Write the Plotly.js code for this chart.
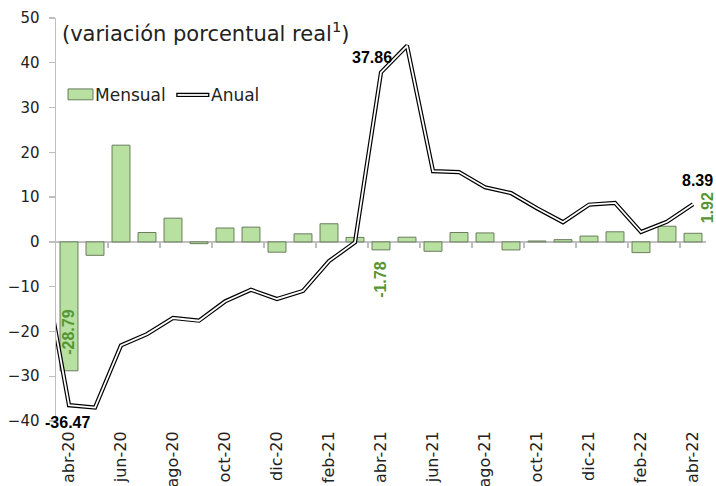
<!DOCTYPE html>
<html>
<head>
<meta charset="utf-8">
<script src="https://cdn.plot.ly/plotly-3.0.1.min.js"></script>
<style>html,body{margin:0;padding:0;background:#fff;}#chart{width:716px;height:486px;}</style>
</head>
<body>
<div id="chart"></div>
<script>
// Months (mar-20 only feeds the clipped start of the annual line)
const months = ["mar-20","abr-20","may-20","jun-20","jul-20","ago-20","sep-20","oct-20","nov-20","dic-20",
  "ene-21","feb-21","mar-21","abr-21","may-21","jun-21","jul-21","ago-21","sep-21","oct-21","nov-21","dic-21",
  "ene-22","feb-22","mar-22","abr-22"];
const mensual = [null,-28.79,-3.0,21.6,2.1,5.3,-0.4,3.1,3.3,-2.3,1.8,4.05,1.0,-1.78,1.05,-2.1,2.1,2.0,-1.8,0.2,0.5,1.3,2.25,-2.4,3.5,1.92];
const anual = [-4.5,-36.47,-37.0,-23.1,-20.6,-17.0,-17.6,-13.3,-10.7,-12.75,-10.95,-4.3,-0.1,37.86,43.8,15.8,15.6,12.2,10.9,7.5,4.4,8.3,8.7,2.2,4.5,8.39];
const tickMonths = ["abr-20","jun-20","ago-20","oct-20","dic-20","feb-21","abr-21","jun-21","ago-21","oct-21","dic-21","feb-22","abr-22"];
const yTicks = [-40,-30,-20,-10,0,10,20,30,40,50];
const yRange = [-40, 50];

const green = '#559632';
const labelFont = {family: 'Liberation Sans, Arial, sans-serif', size: 16, color: '#000'};
const idx = m => months.indexOf(m);

const traces = [
  {type:'bar', x: months, y: mensual, name:'Mensual', showlegend:false,
   marker:{color:'#b7e0a1', line:{color:'#6b7d5e', width:1}}, hoverinfo:'skip'},
  {type:'scatter', mode:'lines', x: months, y: anual, name:'Anual', showlegend:false,
   line:{color:'#000', width:4.2}, hoverinfo:'skip'},
  {type:'scatter', mode:'lines', x: months, y: anual, showlegend:false,
   line:{color:'#fff', width:1.8}, hoverinfo:'skip'}
];

// boundary ticks along the zero line
const boundaryTicks = [];
for (let i = 2; i < months.length - 1; i += 2) boundaryTicks.push(i + 0.5);

const ann = [];
ann.push({xref:'paper', yref:'paper', x:0.006, y:0.965, xanchor:'left', yanchor:'middle', showarrow:false,
  text:'(variación porcentual real<sup>1</sup>)', font:{family:'DejaVu Sans, sans-serif', size:21, color:'#222'}});
// legend
ann.push({xref:'paper', yref:'paper', x:0.057, y:0.809, xanchor:'left', yanchor:'middle', showarrow:false,
  text:'Mensual', font:{family:'DejaVu Sans, sans-serif', size:17, color:'#222'}});
ann.push({xref:'paper', yref:'paper', x:0.236, y:0.809, xanchor:'left', yanchor:'middle', showarrow:false,
  text:'Anual', font:{family:'DejaVu Sans, sans-serif', size:17, color:'#222'}});
// data labels
function lab(m, arr, txt, xs, ys, color, angle){
  ann.push({x:m, y:arr[idx(m)], xref:'x', yref:'y', text:txt, showarrow:false, xanchor:'center', yanchor:'middle',
    xshift:xs, yshift:ys, textangle:angle||0, font:Object.assign({}, labelFont, {color:color, weight:'bold'})});
}
lab('abr-20', mensual, '-28.79', 0, 38, green, -90);
lab('abr-21', mensual, '-1.78', 0, -30, green, -90);
lab('abr-22', mensual, '1.92', 14, 25, green, -90);
lab('abr-20', anual, '-36.47', -2, -17, '#000');
lab('abr-21', anual, '37.86', -9, 15, '#000');
lab('abr-22', anual, '8.39', 4, 24, '#000');

const zeroPos = (0 - yRange[0]) / (yRange[1] - yRange[0]);

const layout = {
  width:716, height:486,
  margin:{l:56, r:10, t:18, b:65},
  paper_bgcolor:'#fff', plot_bgcolor:'#fff',
  bargap:0.31,
  showlegend:false,
  xaxis:{type:'category', categoryorder:'array', categoryarray:months, range:[0.5, months.length - 0.5],
    tickmode:'array', tickvals:tickMonths, ticktext:tickMonths, tickangle:-90,
    ticks:'outside', ticklen:3, tickcolor:'rgba(0,0,0,0)',
    showline:false, showgrid:false, zeroline:false,
    tickfont:{family:'DejaVu Sans, sans-serif', size:16, color:'#222'}},
  xaxis2:{type:'linear', overlaying:'x', anchor:'free', position:zeroPos, side:'bottom',
    range:[0.5, months.length - 0.5], tickmode:'array', tickvals:boundaryTicks, showticklabels:false,
    ticks:'outside', ticklen:5, tickcolor:'#bfbfbf', tickwidth:1.3, showline:false, showgrid:false, zeroline:false},
  yaxis:{range:yRange, tickmode:'array', tickvals:yTicks, ticks:'outside', ticklen:6, tickcolor:'#bfbfbf', tickwidth:1.3,
    showline:true, linecolor:'#bfbfbf', linewidth:1.5, showgrid:false,
    zeroline:true, zerolinecolor:'#bfbfbf', zerolinewidth:1.5,
    ticklabelstandoff:6,
    tickfont:{family:'DejaVu Sans, sans-serif', size:15, color:'#222'}},
  annotations: ann,
  shapes:[
    {type:'rect', xref:'paper', yref:'paper', x0:0.0185, x1:0.0569, y0:0.797, y1:0.824,
     fillcolor:'#b7e0a1', line:{color:'#6b7d5e', width:1}},
    {type:'line', xref:'paper', yref:'paper', x0:0.185, x1:0.236, y0:0.809, y1:0.809, line:{color:'#000', width:4.2}},
    {type:'line', xref:'paper', yref:'paper', x0:0.187, x1:0.234, y0:0.809, y1:0.809, line:{color:'#fff', width:1.8}}
  ]
};
// invisible trace to attach xaxis2
traces.push({type:'scatter', mode:'none', x:[1], y:[0], xaxis:'x2', yaxis:'y', showlegend:false, hoverinfo:'skip'});

Plotly.newPlot('chart', traces, layout, {displayModeBar:false, staticPlot:true});
</script>
</body>
</html>
